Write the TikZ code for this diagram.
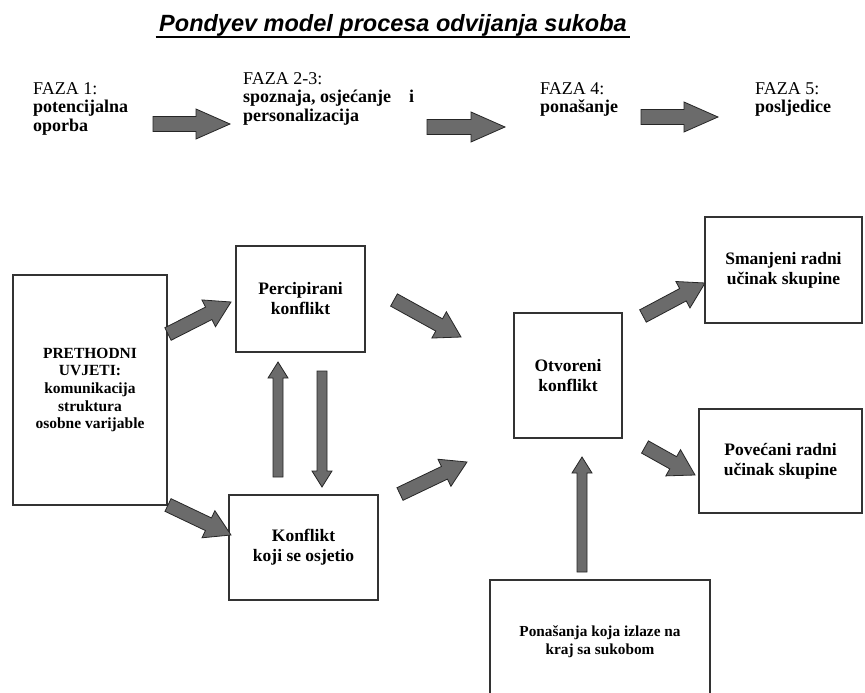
\documentclass[tikz,border=0pt]{standalone}
\usepackage{fontspec}
\setmainfont{Liberation Serif}
\newfontfamily\titlefont{Liberation Sans}
\usetikzlibrary{calc}

\tikzset{
  box/.style={draw=black!80,line width=1.2pt,align=center,inner sep=0pt,
    font=\fontsize{17.5}{20}\selectfont\bfseries},
  faza/.style={anchor=north west,align=left,inner sep=0pt,font=\fontsize{18}{18.5}\selectfont},
  blockarrow/.style={draw=black!85,fill=black!58,line width=0.8pt,line join=miter}
}
% tail, tip, half shaft, half head, head length
\newcommand{\blockarrow}[5]{%
  \coordinate (neck) at ($(#2)!#5!(#1)$);
  \filldraw[blockarrow] ($(#1)!#3!90:(#2)$) -- ($(neck)!#3!90:(#2)$) -- ($(neck)!#4!90:(#2)$)
    -- (#2) -- ($(neck)!#4!-90:(#2)$) -- ($(neck)!#3!-90:(#2)$) -- ($(#1)!#3!-90:(#2)$) -- cycle;}

\begin{document}
\begin{tikzpicture}[x=1pt,y=-1pt]
\clip (0,0) rectangle (865,693);
\fill[white] (0,0) rectangle (865,693);
\node[anchor=base,font=\titlefont\fontsize{23.5}{26}\selectfont\bfseries\itshape] (title) at (393,32)
  {Pondyev model procesa odvijanja sukoba};
\draw[line width=2.2pt] ($(title.base west)+(0,5)$) -- ($(title.base east)+(0,5)$);
% faze
\node[faza] (f1) at (33,82) {FAZA 1:\\\textbf{potencijalna}\\\textbf{oporba}};
\node[faza] (f23) at (243,72) {FAZA 2-3:\\\textbf{spoznaja, osjećanje\quad i}\\\textbf{personalizacija}};
\node[faza] (f4) at (540,82) {FAZA 4:\\\textbf{ponašanje}};
\node[faza] (f5) at (755,82) {FAZA 5:\\\textbf{posljedice}};
\coordinate (p1s) at (153,124); \coordinate (p1e) at (230,124);
\coordinate (p2s) at (427,127); \coordinate (p2e) at (505,127);
\coordinate (p3s) at (641,117); \coordinate (p3e) at (718,117);
\foreach \s/\e in {p1s/p1e,p2s/p2e,p3s/p3e}
  \blockarrow{\s}{\e}{7.5pt}{15pt}{34pt};
% model
\node[box,minimum width=154pt,minimum height=230pt,font=\fontsize{15.5}{17.7}\selectfont\bfseries] (uvj) at (90,390)
  {PRETHODNI\\UVJETI:\\komunikacija\\struktura\\osobne varijable};
\node[box,minimum width=129pt,minimum height=106pt] (perc) at (300.5,299) {Percipirani\\konflikt};
\node[box,minimum width=149pt,minimum height=105pt] (osj) at (303.5,547.5) {Konflikt\\koji se osjetio};
\node[box,minimum width=108pt,minimum height=125pt] (otv) at (568,375.5) {Otvoreni\\konflikt};
\node[box,minimum width=157pt,minimum height=106pt] (manji) at (783.5,270) {Smanjeni radni\\učinak skupine};
\node[box,minimum width=163pt,minimum height=104pt] (veci) at (780.5,461) {Povećani radni\\učinak skupine};
\node[box,minimum width=220pt,minimum height=124pt,font=\fontsize{15.3}{18}\selectfont\bfseries] (kraj) at (600,642)
  {Ponašanja koja izlaze na\\kraj sa sukobom};
\coordinate (a1s) at (168,334); \coordinate (a1e) at (231,302);
\coordinate (a2s) at (168,505); \coordinate (a2e) at (231,535);
\coordinate (a3s) at (394,300); \coordinate (a3e) at (461,337);
\coordinate (a4s) at (400,494); \coordinate (a4e) at (467,462);
\coordinate (a5s) at (643,316); \coordinate (a5e) at (705,283);
\coordinate (a6s) at (645,447); \coordinate (a6e) at (695,475);
\foreach \s/\e in {a1s/a1e,a2s/a2e,a3s/a3e,a4s/a4e,a5s/a5e,a6s/a6e}
  \blockarrow{\s}{\e}{7pt}{15pt}{25pt};
\coordinate (v1s) at (278,477); \coordinate (v1e) at (278,362);
\coordinate (v2s) at (322,371); \coordinate (v2e) at (322,487);
\coordinate (v3s) at (582,572); \coordinate (v3e) at (582,457);
\foreach \s/\e in {v1s/v1e,v2s/v2e,v3s/v3e}
  \blockarrow{\s}{\e}{5pt}{10pt}{16pt};
\end{tikzpicture}
\end{document}
